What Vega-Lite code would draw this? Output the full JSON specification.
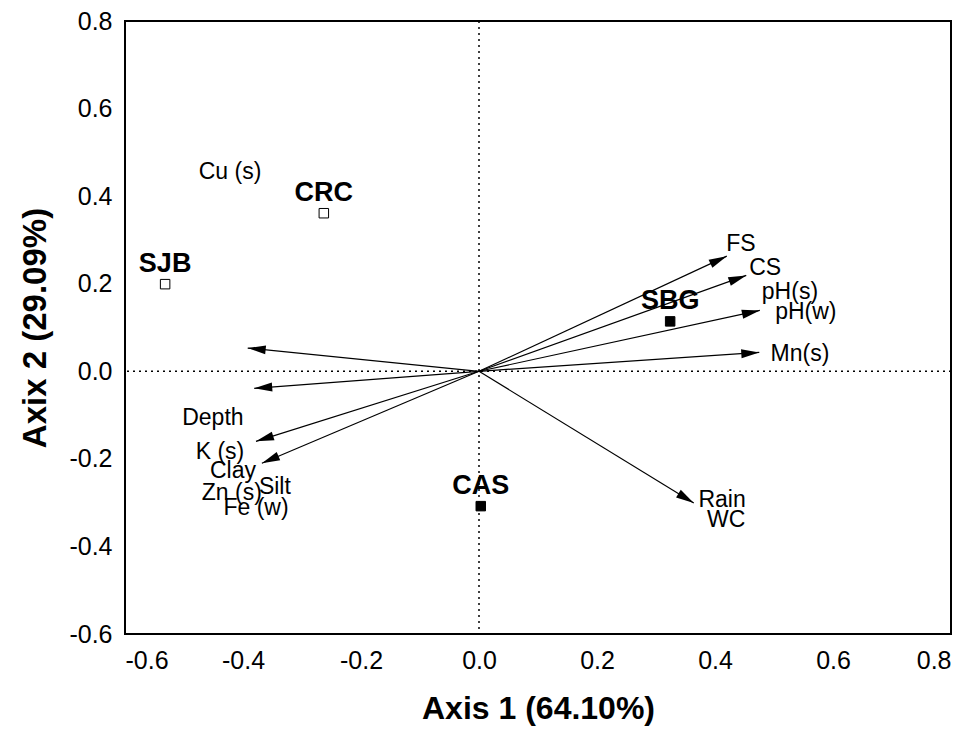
{
  "$schema": "https://vega.github.io/schema/vega-lite/v6.json",
  "width": 826,
  "height": 613,
  "autosize": "none",
  "padding": {"left": 125, "top": 21, "right": 23, "bottom": 97},
  "background": "white",
  "config": {
    "view": {"stroke": "black", "strokeWidth": 2},
    "font": "Liberation Sans",
    "axis": {"grid": false, "ticks": false, "domain": false, "labelFont": "Liberation Sans", "labelFontSize": 25, "labelColor": "black", "titleFont": "Liberation Sans", "titleFontWeight": "bold", "titleColor": "black"}
  },
  "datasets": {
    "arrows": [
      {"name": "FS", "x": 0.420, "y": 0.263},
      {"name": "CS", "x": 0.453, "y": 0.219},
      {"name": "pH", "x": 0.476, "y": 0.139},
      {"name": "Mn", "x": 0.475, "y": 0.043},
      {"name": "Rain", "x": 0.364, "y": -0.301},
      {"name": "L1", "x": -0.392, "y": 0.053},
      {"name": "L2", "x": -0.381, "y": -0.039},
      {"name": "L3", "x": -0.378, "y": -0.160},
      {"name": "L4", "x": -0.368, "y": -0.210}
    ],
    "labels": [
      {"label": "Cu (s)", "x": -0.422, "y": 0.454},
      {"label": "Depth", "x": -0.451, "y": -0.107},
      {"label": "K (s)", "x": -0.439, "y": -0.185},
      {"label": "Clay", "x": -0.417, "y": -0.228},
      {"label": "Zn (s)", "x": -0.419, "y": -0.279},
      {"label": "Silt", "x": -0.346, "y": -0.265},
      {"label": "Fe (w)", "x": -0.378, "y": -0.313},
      {"label": "FS", "x": 0.444, "y": 0.290},
      {"label": "CS", "x": 0.485, "y": 0.235},
      {"label": "pH(s)", "x": 0.527, "y": 0.180},
      {"label": "pH(w)", "x": 0.554, "y": 0.135},
      {"label": "Mn(s)", "x": 0.544, "y": 0.039},
      {"label": "Rain", "x": 0.412, "y": -0.295},
      {"label": "WC", "x": 0.419, "y": -0.340}
    ],
    "sites": [
      {"site": "SJB", "x": -0.532, "y": 0.199, "group": "open"},
      {"site": "CRC", "x": -0.263, "y": 0.361, "group": "open"},
      {"site": "SBG", "x": 0.324, "y": 0.114, "group": "filled"},
      {"site": "CAS", "x": 0.003, "y": -0.308, "group": "filled"}
    ],
    "zero": [{"v": 0}]
  },
  "layer": [
    {
      "data": {"name": "zero"},
      "mark": {"type": "rule", "color": "black", "strokeWidth": 1.5, "strokeDash": [2, 4]},
      "encoding": {"x": {"field": "v", "type": "quantitative", "scale": {"domain": [-0.6, 0.8], "nice": false}, "axis": {"values": [-0.6, -0.4, -0.2, 0, 0.2, 0.4, 0.6, 0.8], "format": ".1f", "labelExpr": "replace(datum.label, '\u2212', '-')", "title": "Axis 1 (64.10%)", "titleFontSize": 32, "labelPadding": 14, "titlePadding": 20}}}
    },
    {
      "data": {"name": "zero"},
      "mark": {"type": "rule", "color": "black", "strokeWidth": 1.5, "strokeDash": [2, 4]},
      "encoding": {"y": {"field": "v", "type": "quantitative", "scale": {"domain": [-0.6, 0.8], "nice": false}, "axis": {"values": [-0.6, -0.4, -0.2, 0, 0.2, 0.4, 0.6, 0.8], "format": ".1f", "labelExpr": "replace(datum.label, '\u2212', '-')", "title": "Axix 2 (29.09%)", "titleFontSize": 33, "labelPadding": 13, "titlePadding": 16}}}
    },
    {
      "data": {"name": "arrows"},
      "transform": [{"calculate": "0", "as": "x0"}, {"calculate": "0", "as": "y0"}],
      "mark": {"type": "rule", "color": "black", "strokeWidth": 1.2},
      "encoding": {
        "x": {"field": "x0", "type": "quantitative"},
        "y": {"field": "y0", "type": "quantitative"},
        "x2": {"field": "x"},
        "y2": {"field": "y"}
      }
    },
    {
      "data": {"name": "arrows"},
      "transform": [{"calculate": "atan2(-datum.y * 437.9, datum.x * 590) * 180 / PI", "as": "ang"}],
      "mark": {"type": "point", "shape": "M0,0 L-2,-0.5 L-2,0.5 Z", "filled": true, "color": "black", "size": 324, "opacity": 1},
      "encoding": {
        "x": {"field": "x", "type": "quantitative"},
        "y": {"field": "y", "type": "quantitative"},
        "angle": {"field": "ang", "type": "quantitative", "scale": null}
      }
    },
    {
      "data": {"name": "labels"},
      "mark": {"type": "text", "fontSize": 23, "font": "Liberation Sans", "color": "black", "align": "center", "baseline": "middle"},
      "encoding": {
        "x": {"field": "x", "type": "quantitative"},
        "y": {"field": "y", "type": "quantitative"},
        "text": {"field": "label"}
      }
    },
    {
      "data": {"name": "sites"},
      "mark": {"type": "square", "size": 90, "stroke": "black", "strokeWidth": 1, "opacity": 1},
      "encoding": {
        "x": {"field": "x", "type": "quantitative"},
        "y": {"field": "y", "type": "quantitative"},
        "fill": {"field": "group", "type": "nominal", "scale": {"domain": ["open", "filled"], "range": ["white", "black"]}, "legend": null}
      }
    },
    {
      "data": {"name": "sites"},
      "mark": {"type": "text", "fontSize": 27, "fontWeight": "bold", "font": "Liberation Sans", "color": "black", "align": "center", "baseline": "middle", "dy": -20},
      "encoding": {
        "x": {"field": "x", "type": "quantitative"},
        "y": {"field": "y", "type": "quantitative"},
        "text": {"field": "site"}
      }
    }
  ]
}
